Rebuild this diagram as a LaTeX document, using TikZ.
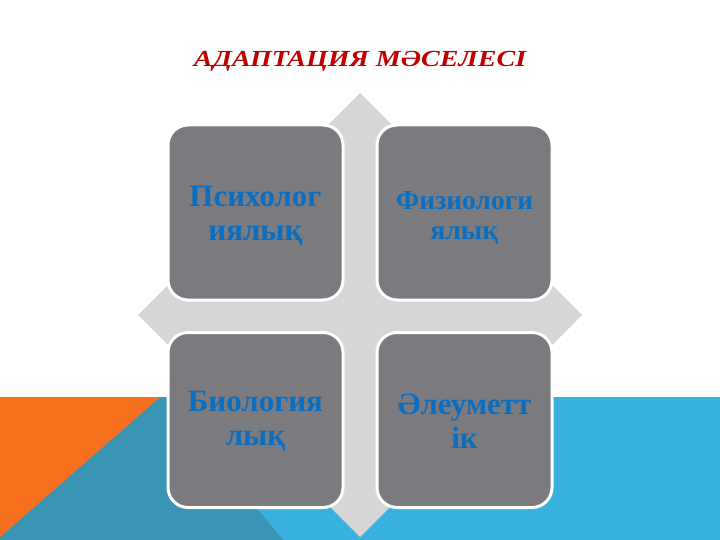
\documentclass[tikz,border=0pt]{standalone}
\usepackage{fontspec}
\setmainfont{Liberation Serif}
\newfontfamily\titlefont[FakeStretch=1.22]{Liberation Serif}
\definecolor{bandblue}{HTML}{38B1DE}
\definecolor{bandteal}{HTML}{3A94B3}
\definecolor{bandorange}{HTML}{F6701E}
\definecolor{diamondgray}{HTML}{D6D6D6}
\definecolor{boxgray}{HTML}{7B7B7F}
\definecolor{textblue}{HTML}{0A6FC2}
\definecolor{titlered}{HTML}{C00000}
\tikzset{
  cell/.style={rectangle, rounded corners=20pt, fill=boxgray, draw=white, line width=3pt,
    minimum width=175pt, minimum height=175pt, inner sep=0pt},
  celltext/.style={align=center, text=textblue, inner sep=0pt},
  bigtext/.style={celltext, font=\fontsize{31}{34}\selectfont\bfseries},
  smalltext/.style={celltext, font=\fontsize{27.5}{30}\selectfont\bfseries},
  titletext/.style={font=\titlefont\fontsize{23}{26}\selectfont\bfseries\itshape, text=titlered}
}
\begin{document}
\begin{tikzpicture}[x=1pt,y=-1pt]
\useasboundingbox (0,0) rectangle (720,540);
\fill[white] (0,0) rectangle (720,540);
% bottom band
\fill[bandblue] (0,397) rectangle (720,540);
\fill[bandteal] (0,537) -- (160,397) -- (165,397) -- (283,540) -- (0,540) -- cycle;
\fill[bandorange] (0,397) -- (160,397) -- (0,537) -- cycle;
% title
\node[titletext, anchor=base] (title) at (360,67) {АДАПТАЦИЯ МӘСЕЛЕСІ};
% diamond
\fill[diamondgray] (360,93) -- (582,315) -- (360,537) -- (138,315) -- cycle;
% cells
\node[cell] (psy) at (255.5,212.5) {};
\node[cell] (phys) at (464.5,212.5) {};
\node[cell] (bio) at (255.5,420) {};
\node[cell] (soc) at (464.5,420) {};
% texts
\node[bigtext] (psyt) at ([yshift=-4pt]psy.center) {Психолог\\иялық};
\node[smalltext] (physt) at ([yshift=-5pt]phys.center) {Физиологи\\ялық};
\node[bigtext] (biot) at ([yshift=-1pt]bio.center) {Биология\\лық};
\node[bigtext] (soct) at ([yshift=-1pt]soc.center) {Әлеуметт\\ік};
\end{tikzpicture}
\end{document}
